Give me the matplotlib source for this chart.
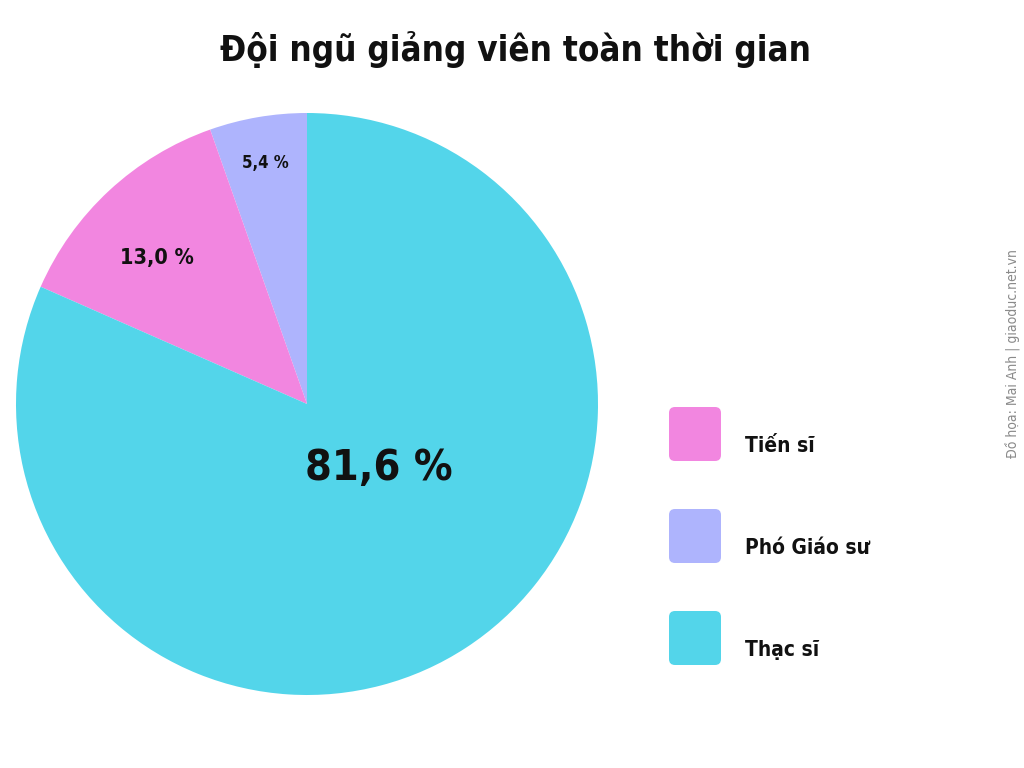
import numpy as np
import matplotlib.pyplot as plt
from matplotlib.patches import FancyBboxPatch

plt.rcParams['font.family'] = ['DejaVu Sans']
plt.rcParams['font.stretch'] = 'condensed'

# data, in the order the wedges are drawn (counter-clockwise from the top)
categories = ['Phó Giáo sư', 'Tiến sĩ', 'Thạc sĩ']
shares = [5.4, 13.0, 81.6]
colors = ['#aeb4fd', '#f286e0', '#53d5ea']
label_sizes = [12, 15.5, 31]
label_dist = [0.84, 0.72, 0.33]
label_shift = [0, 3, 15]   # degrees nudged off the wedge middle

legend_order = ['Tiến sĩ', 'Phó Giáo sư', 'Thạc sĩ']

fig = plt.figure(figsize=(10.24, 7.68), dpi=100)
fig.patch.set_facecolor('white')

# pie axes: centre ~ (307, 404) px, radius ~ 291 px
W, H = 1024, 768
cx, cy, r = 307, 404, 291
ax = fig.add_axes([(cx - r) / W, (H - cy - r) / H, 2 * r / W, 2 * r / H])
wedges, _ = ax.pie(shares, colors=colors, startangle=90, counterclock=True,
                   radius=1, wedgeprops=dict(linewidth=0))
ax.set_xlim(-1, 1)
ax.set_ylim(-1, 1)
ax.set_aspect('equal')
ax.axis('off')

for w, val, fs, d, sh in zip(wedges, shares, label_sizes, label_dist, label_shift):
    ang = np.deg2rad((w.theta1 + w.theta2) / 2 + sh)
    txt = f"{val:.1f}".replace('.', ',') + ' %'
    ax.text(d * np.cos(ang), d * np.sin(ang), txt, ha='center', va='center',
            fontsize=fs, fontweight='bold', color='#111111')

fig.text(0.503, 0.935, 'Đội ngũ giảng viên toàn thời gian', ha='center', va='center',
         fontsize=25, fontweight='bold', color='#111111')

# legend with rounded squares
lax = fig.add_axes([0, 0, 1, 1])
lax.set_xlim(0, W)
lax.set_ylim(H, 0)
lax.axis('off')
color_of = dict(zip(categories, colors))
for i, name in enumerate(legend_order):
    y0 = 407 + i * 102
    lax.add_patch(FancyBboxPatch((669 + 6, y0 + 6), 52 - 12, 54 - 12,
                                 boxstyle='round,pad=6', linewidth=0,
                                 facecolor=color_of[name]))
    lax.text(745, y0 + 39, name, ha='left', va='center', fontsize=15,
             fontweight='bold', color='#111111')

fig.text(0.989, 0.539, 'Đồ họa: Mai Anh | giaoduc.net.vn', rotation=90,
         ha='center', va='center', fontsize=10, color='#8a8a8a')

fig.savefig('out.png', dpi=100, facecolor='white')
